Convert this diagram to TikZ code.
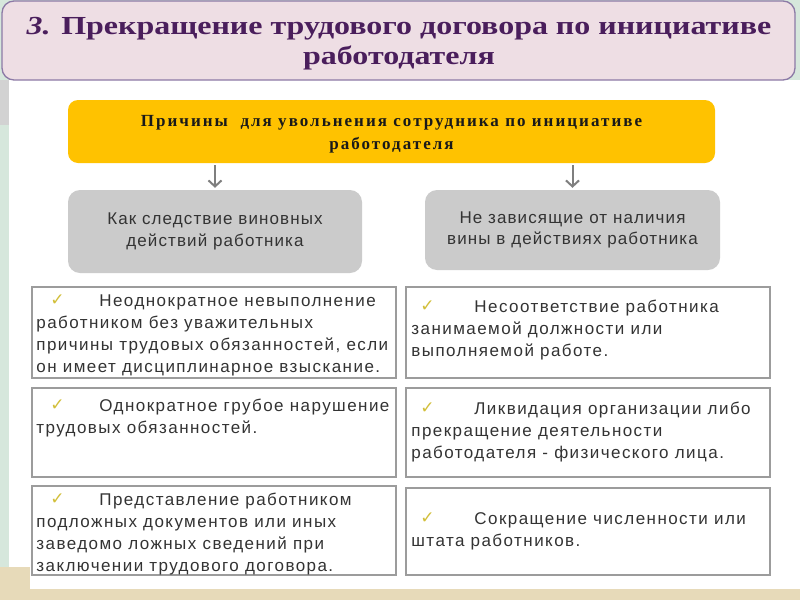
\documentclass[tikz,border=0pt]{standalone}
\usepackage{fontspec}
\setmainfont{Liberation Serif}
\newfontfamily\titlefont[FakeStretch=1.23]{Liberation Serif}
\newfontfamily\bodyfont[LetterSpace=8.5]{Liberation Sans}
\newfontfamily\grayfont[LetterSpace=6.5]{Liberation Sans}
\newfontfamily\yelfont[LetterSpace=12]{Liberation Serif}
\newfontfamily\chkfont{DejaVu Sans}
\usetikzlibrary{arrows.meta}
\definecolor{bggreen}{HTML}{D6E7DC}
\definecolor{beige}{HTML}{E7DAB9}
\definecolor{titlefill}{HTML}{EEDEE4}
\definecolor{titledraw}{HTML}{8C7AA6}
\definecolor{titletext}{HTML}{4A1E5C}
\definecolor{yel}{HTML}{FFC200}
\definecolor{grayfill}{HTML}{CBCBCB}
\definecolor{boxdraw}{HTML}{9C9C9C}
\definecolor{bodytext}{HTML}{333333}
\definecolor{chk}{HTML}{D2BF3A}
\definecolor{arrgray}{HTML}{7F7F7F}
\newcommand{\chkmark}[2]{\makebox[#2pt][l]{\hspace{#1pt}\raisebox{1pt}{\chkfont\color{chk}\fontsize{17}{17}\selectfont ✓}}}
\begin{document}
\begin{tikzpicture}[x=1pt,y=-1pt,
  titlebox/.style={draw=titledraw, line width=1.3pt, fill=titlefill, rounded corners=12pt, inner sep=0pt},
  titletxt/.style={inner sep=0pt, align=center, text=titletext, font=\titlefont\bfseries\fontsize{26}{30}\selectfont},
  yelbox/.style={fill=yel, rounded corners=10pt, inner sep=0pt},
  yeltxt/.style={inner sep=0pt, align=center, text=black!90, font=\yelfont\bfseries\fontsize{17}{23}\selectfont},
  graybox/.style={fill=grayfill, rounded corners=12pt, inner sep=0pt, align=center, text=bodytext, font=\grayfont\fontsize{17}{21.5}\selectfont},
  whitebox/.style={draw=boxdraw, line width=1.6pt, fill=white, inner sep=0pt},
  txt/.style={inner sep=0pt, align=left, text=bodytext, font=\bodyfont\fontsize{17}{22}\selectfont},
  arr/.style={draw=arrgray, line width=2pt, -{Straight Barb[length=6pt,width=13pt,line width=2pt]}}
]
\useasboundingbox (0,0) rectangle (800,600);
\fill[bggreen] (0,0) rectangle (800,600);
\fill[white] (9,80) rectangle (800,590);
\fill[beige] (0,589) rectangle (800,600);
\fill[beige] (0,567) rectangle (30,600);
\fill[gray!35] (0,80) rectangle (9,125);

\node[titlebox, minimum width=793pt, minimum height=79pt] (title) at (398.5,40.5) {};
\node[titletxt] (titletext) at (399,44)
  {{\itshape 3.} Прекращение трудового договора по инициативе\\работодателя};

\node[yelbox, minimum width=647pt, minimum height=63pt] (yel) at (391.5,131.5) {};
\node[yeltxt] (yeltext) at (391.5,134)
  {Причины\ \ для увольнения сотрудника по инициативе\\работодателя};

\node[graybox, minimum width=294pt, minimum height=83pt] (lg) at (215,231.5)
  {Как следствие виновных\\действий работника};
\node[graybox, minimum width=295pt, minimum height=80pt] (rg) at (572.5,230)
  {Не зависящие от наличия\\вины в действиях работника};

\draw[arr] ([yshift=-2pt]lg.north |- yel.south) -- ([yshift=2pt]lg.north);
\draw[arr] ([yshift=-2pt]rg.north |- yel.south) -- ([yshift=2pt]rg.north);

\node[whitebox, minimum width=364pt, minimum height=91pt] (l1) at (214,332.5) {};
\node[whitebox, minimum width=364pt, minimum height=89pt] (l2) at (214,432.5) {};
\node[whitebox, minimum width=364pt, minimum height=89pt] (l3) at (214,530.5) {};
\node[whitebox, minimum width=364pt, minimum height=91pt] (r1) at (588,332.5) {};
\node[whitebox, minimum width=364pt, minimum height=89pt] (r2) at (588,432.5) {};
\node[whitebox, minimum width=364pt, minimum height=87pt] (r3) at (588,531.5) {};

\node[txt, anchor=north west] (tl1) at ([xshift=5pt,yshift=-8pt]l1.north west)
  {\chkmark{14}{63}Неоднократное невыполнение\\работником без уважительных\\причины трудовых обязанностей, если\\он имеет дисциплинарное взыскание.};
\node[txt, anchor=north west] (tl2) at ([xshift=5pt,yshift=-12pt]l2.north west)
  {\chkmark{14}{63}Однократное грубое нарушение\\трудовых обязанностей.};
\node[txt, anchor=north west] (tl3) at ([xshift=5pt,yshift=-8pt]l3.north west)
  {\chkmark{14}{63}Представление работником\\подложных документов или иных\\заведомо ложных сведений при\\заключении трудового договора.};
\node[txt, anchor=north west] (tr1) at ([xshift=6pt,yshift=-14pt]r1.north west)
  {\chkmark{9}{63}Несоответствие работника\\занимаемой должности или\\выполняемой работе.};
\node[txt, anchor=north west] (tr2) at ([xshift=6pt,yshift=-15pt]r2.north west)
  {\chkmark{9}{63}Ликвидация организации либо\\прекращение деятельности\\работодателя - физического лица.};
\node[txt, anchor=north west] (tr3) at ([xshift=6pt,yshift=-25pt]r3.north west)
  {\chkmark{9}{63}Сокращение численности или\\штата работников.};
\end{tikzpicture}
\end{document}
